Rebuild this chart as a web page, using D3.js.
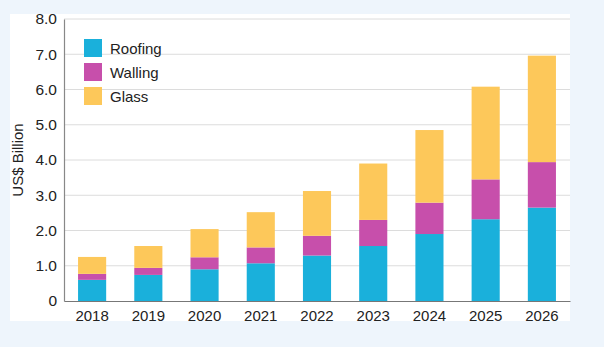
<!DOCTYPE html>
<html><head><meta charset="utf-8">
<script src="https://cdn.jsdelivr.net/npm/d3@7"></script>
<style>
html,body{margin:0;padding:0;background:#eef5fc;}
svg{display:block;font-family:"Liberation Sans",Arial,Helvetica,sans-serif;}
</style></head>
<body><svg id="c" width="604" height="347"></svg>
<script>
const years = ["2018","2019","2020","2021","2022","2023","2024","2025","2026"];
const roofing = [0.60,0.74,0.90,1.07,1.29,1.56,1.90,2.32,2.65];
const walling = [0.17,0.20,0.34,0.45,0.56,0.74,0.89,1.13,1.29];
const glass   = [0.48,0.62,0.80,1.00,1.27,1.60,2.06,2.63,3.02];
const seriesNames = ["Roofing","Walling","Glass"];
const colors = ["#1ab0db","#c74fab","#fdc85a"];
const yTicks = [0,1,2,3,4,5,6,7,8];

const svg = d3.select("#c");
svg.append("rect").attr("x",10).attr("y",14).attr("width",560).attr("height",307).attr("fill","#ffffff");

const m = {l:64, r:570, t:19, b:301};
const x = d3.scaleBand().domain(years).range([m.l, m.r]).paddingInner(0.5).paddingOuter(0.25);
const y = d3.scaleLinear().domain([0,8]).range([m.b, m.t]);

// gridlines
svg.append("g").selectAll("line").data(yTicks.filter(d=>d>0)).join("line")
  .attr("x1",m.l).attr("x2",m.r).attr("y1",d=>y(d)).attr("y2",d=>y(d))
  .attr("stroke","#dcdcdc").attr("stroke-width",1);

const table = years.map((yr,i)=>({year:yr, Roofing:roofing[i], Walling:walling[i], Glass:glass[i]}));
const stack = d3.stack().keys(seriesNames)(table);
svg.append("g").selectAll("g").data(stack).join("g")
  .attr("fill",(d,i)=>colors[i])
  .selectAll("rect").data(d=>d).join("rect")
  .attr("x",d=>x(d.data.year)).attr("width",x.bandwidth())
  .attr("y",d=>y(d[1])).attr("height",d=>y(d[0])-y(d[1]));

// y axis
const ya = svg.append("g").attr("transform",`translate(${m.l},0)`)
  .call(d3.axisLeft(y).tickValues(yTicks).tickSize(0).tickPadding(7)
    .tickFormat(d=>d===0?"0":d3.format(".1f")(d)));
ya.select(".domain").attr("stroke","#888").attr("stroke-width",1.2);
ya.selectAll("text").attr("font-size",15.5).attr("fill","#222").attr("font-family","Liberation Sans, Arial, sans-serif");

// x axis
const xa = svg.append("g").attr("transform",`translate(0,${m.b})`)
  .call(d3.axisBottom(x).tickSize(0).tickPadding(9));
xa.select(".domain").attr("stroke","#777").attr("stroke-width",1.2);
xa.selectAll("text").attr("font-size",15).attr("fill","#222").attr("font-family","Liberation Sans, Arial, sans-serif");

// y label
svg.append("text").attr("transform","translate(23,160) rotate(-90)")
  .attr("text-anchor","middle").attr("font-size",15).attr("fill","#222").text("US$ Billion");

// legend
const lg = svg.append("g").selectAll("g").data(seriesNames).join("g")
  .attr("transform",(d,i)=>`translate(84,${39+i*24})`);
lg.append("rect").attr("width",18).attr("height",18).attr("fill",(d,i)=>colors[i]);
lg.append("text").attr("x",26).attr("y",14.5).attr("font-size",15).attr("fill","#222").text(d=>d);
</script></body></html>
